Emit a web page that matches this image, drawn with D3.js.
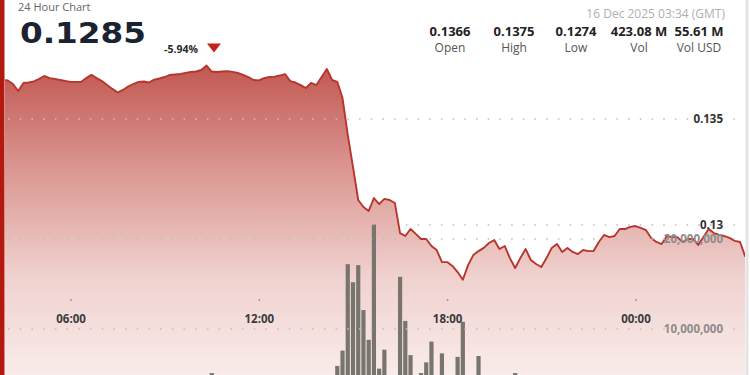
<!DOCTYPE html>
<html>
<head>
<meta charset="utf-8">
<script src="https://cdn.jsdelivr.net/npm/d3@7"></script>
<style>
  body { margin: 0; background: #fff; }
  svg { display: block; font-family: "Open Sans", sans-serif; }
</style>
</head>
<body>
<svg id="chart"></svg>
<script>
// 10 minute samples, 15 Dec 03:40 -> 16 Dec 03:30 (GMT)
var startTime = "2025-12-15T03:40:00Z";
var stepMinutes = 10;

var prices = [
  0.13660, 0.13684, 0.13682, 0.13665, 0.13632, 0.13670, 0.13672, 0.13677, 0.13689, 0.13703,
  0.13693, 0.13689, 0.13684, 0.13679, 0.13675, 0.13675, 0.13675, 0.13693, 0.13708, 0.13693,
  0.13679, 0.13660, 0.13642, 0.13625, 0.13637, 0.13653, 0.13665, 0.13675, 0.13677, 0.13672,
  0.13686, 0.13691, 0.13698, 0.13708, 0.13710, 0.13712, 0.13717, 0.13722, 0.13724, 0.13731,
  0.13752, 0.13724, 0.13722, 0.13724, 0.13726, 0.13722, 0.13717, 0.13708, 0.13698, 0.13684,
  0.13682, 0.13693, 0.13698, 0.13700, 0.13705, 0.13712, 0.13679, 0.13672, 0.13660, 0.13646,
  0.13670, 0.13660, 0.13698, 0.13736, 0.13684, 0.13675, 0.13599, 0.13425, 0.13274, 0.13118,
  0.13085, 0.13066, 0.13127, 0.13099, 0.13123, 0.13118, 0.13104, 0.12962, 0.12948, 0.12981,
  0.12958, 0.12934, 0.12934, 0.12901, 0.12882, 0.12825, 0.12825, 0.12807, 0.12778, 0.12742,
  0.12811, 0.12858, 0.12877, 0.12892, 0.12915, 0.12929, 0.12887, 0.12901, 0.12844, 0.12797,
  0.12844, 0.12887, 0.12835, 0.12816, 0.12802, 0.12844, 0.12892, 0.12910, 0.12873, 0.12892,
  0.12873, 0.12863, 0.12882, 0.12877, 0.12877, 0.12920, 0.12953, 0.12943, 0.12948, 0.12981,
  0.12981, 0.12991, 0.12995, 0.12986, 0.12976, 0.12939, 0.12920, 0.12910, 0.12948, 0.12943,
  0.12943, 0.12920, 0.12934, 0.12934, 0.12906, 0.12943, 0.12981, 0.12962, 0.12953, 0.12948,
  0.12939, 0.12925, 0.12920, 0.12850
];

// volume per 10 min, millions
var volumes = [
  1.6, 1.2, 0.9, 1.4, 2.1, 1.1, 0.8, 1.3, 1.7, 2.4,
  1.5, 1.0, 0.9, 1.8, 1.2, 1.1, 0.7, 1.9, 2.6, 1.4,
  1.2, 2.2, 2.9, 1.6, 1.3, 1.9, 1.1, 0.9, 1.4, 1.2,
  1.8, 1.3, 1.7, 2.0, 1.5, 1.1, 1.6, 2.3, 1.9, 2.8,
  3.9, 5.1, 2.4, 1.7, 1.3, 1.6, 1.2, 1.9, 2.2, 2.7,
  1.8, 1.4, 1.5, 1.2, 1.9, 2.5, 2.9, 1.7, 2.4, 3.1,
  2.2, 2.6, 3.4, 3.8, 2.7, 5.9, 7.6, 17.2, 15.2, 17.1,
  12.1, 8.8, 21.6, 5.6, 7.7, 3.9, 4.2, 15.8, 10.9, 7.1,
  4.0, 5.1, 6.3, 8.6, 4.3, 7.3, 3.6, 4.1, 6.9, 10.8,
  4.2, 3.8, 7.0, 3.1, 2.6, 3.3, 2.4, 2.9, 3.7, 5.1,
  2.8, 2.1, 3.2, 2.5, 1.9, 2.3, 2.7, 1.8, 1.6, 2.2,
  1.5, 1.9, 1.4, 2.0, 1.7, 2.6, 2.3, 1.6, 1.3, 1.8,
  1.2, 1.5, 1.9, 1.4, 1.1, 1.7, 2.1, 1.6, 1.3, 1.2,
  1.0, 1.4, 1.8, 1.3, 1.6, 2.0, 1.5, 1.2, 1.1, 1.4,
  1.7, 1.3, 2.2, 3.4
];

var priceTicks = [0.13, 0.135];
var volumeTicks = [10000000, 20000000];
var timeTicks = ["2025-12-15T06:00:00Z", "2025-12-15T12:00:00Z", "2025-12-15T18:00:00Z", "2025-12-16T00:00:00Z"];

var lastPrice = "0.1285";
var changePct = "-5.94%";
var stampText = "16 Dec 2025 03:34 (GMT)";
var statValues = ["0.1366", "0.1375", "0.1274", "423.08 M", "55.61 M"];
var statLabels = ["Open", "High", "Low", "Vol", "Vol USD"];

var width = 750, height = 375;
var t0 = new Date(startTime);
var data = prices.map(function (p, i) {
  return { t: d3.utcMinute.offset(t0, i * stepMinutes), p: p, v: volumes[i] * 1e6 };
});

var svg = d3.select("#chart").attr("width", width).attr("height", height);

var x = d3.scaleUtc()
  .domain([data[0].t, data[data.length - 1].t])
  .range([-2.7, 745.3]);
var yPrice = d3.scaleLinear().domain([0.13, 0.135]).range([225, 119]);
var yVol = d3.scaleLinear().domain([0, 20000000]).range([419, 239]);

var defs = svg.append("defs");
defs.append("clipPath").attr("id", "plot")
  .append("rect").attr("x", 5).attr("y", 0).attr("width", 740).attr("height", height);

var grad = defs.append("linearGradient").attr("id", "fill")
  .attr("gradientUnits", "userSpaceOnUse")
  .attr("x1", 0).attr("x2", 0)
  .attr("y1", yPrice(0.1375)).attr("y2", yVol(0));
grad.append("stop").attr("offset", 0).attr("stop-color", "rgb(193,88,82)");
grad.append("stop").attr("offset", 0.3).attr("stop-color", "rgb(220,152,147)");
grad.append("stop").attr("offset", 0.6).attr("stop-color", "rgb(240,210,207)");
grad.append("stop").attr("offset", 1).attr("stop-color", "rgb(253,247,246)");

var plot = svg.append("g").attr("clip-path", "url(#plot)");

// area under price
var area = d3.area()
  .x(function (d) { return x(d.t); })
  .y0(yVol(0))
  .y1(function (d) { return yPrice(d.p); });
plot.append("path").datum(data).attr("d", area).attr("fill", "url(#fill)");

// dotted grid lines
var gridYs = priceTicks.map(yPrice).concat(volumeTicks.map(yVol));
svg.append("g").selectAll("line").data(gridYs).enter().append("line")
  .attr("x1", 8).attr("x2", 742)
  .attr("y1", function (d) { return d; }).attr("y2", function (d) { return d; })
  .attr("stroke", "#c2bebe")
  .attr("stroke-width", 1.6)
  .attr("stroke-dasharray", "1.6,10.1");

// volume bars
plot.append("g").selectAll("rect").data(data).enter().append("rect")
  .attr("x", function (d) { return x(d.t) - 2.1; })
  .attr("width", 4.2)
  .attr("y", function (d) { return yVol(d.v); })
  .attr("height", function (d) { return yVol(0) - yVol(d.v); })
  .attr("fill", "#78756f");

// price line
var line = d3.line()
  .x(function (d) { return x(d.t); })
  .y(function (d) { return yPrice(d.p); });
plot.append("path").datum(data).attr("d", line)
  .attr("fill", "none")
  .attr("stroke", "#b8352e")
  .attr("stroke-width", 1.9)
  .attr("stroke-linejoin", "round");

// time axis
var tickDates = timeTicks.map(function (s) { return new Date(s); });
var xAxis = svg.append("g").attr("transform", "translate(0,300)")
  .call(d3.axisBottom(x).tickValues(tickDates)
    .tickFormat(d3.utcFormat("%H:%M")).tickSize(0).tickPadding(15));
xAxis.select(".domain").remove();
xAxis.selectAll("text")
  .attr("font-family", "Open Sans").attr("font-size", 11.5)
  .attr("font-weight", "bold").attr("fill", "#3b3b3d");
xAxis.selectAll(".tick").append("circle").attr("r", 1).attr("fill", "#9a9a9a");

// price labels
var pAxis = svg.append("g").attr("transform", "translate(723,0)")
  .call(d3.axisLeft(yPrice).tickValues(priceTicks)
    .tickFormat(d3.format(".3~f")).tickSize(0).tickPadding(0));
pAxis.select(".domain").remove();
pAxis.selectAll("text")
  .attr("font-family", "Open Sans").attr("font-size", 11.5)
  .attr("font-weight", "bold").attr("fill", "#333");

// volume labels
var vAxis = svg.append("g").attr("transform", "translate(723,0)")
  .call(d3.axisLeft(yVol).tickValues(volumeTicks)
    .tickFormat(d3.format(",")).tickSize(0).tickPadding(0));
vAxis.select(".domain").remove();
vAxis.selectAll("text")
  .attr("font-family", "Open Sans").attr("font-size", 11.5)
  .attr("font-weight", "bold").attr("fill", "#8e8c8c");

// header
svg.append("text").attr("x", 18).attr("y", 10.5)
  .attr("font-size", 11).attr("fill", "#666").text("24 Hour Chart");
svg.append("text").attr("x", 20).attr("y", 43.3)
  .attr("font-family", "DejaVu Sans").attr("font-weight", "bold")
  .attr("font-size", 28.5).attr("fill", "#1b2332")
  .attr("textLength", 126).attr("lengthAdjust", "spacingAndGlyphs")
  .text(lastPrice);
svg.append("text").attr("x", 164).attr("y", 52.5)
  .attr("font-size", 10.5).attr("font-weight", "bold").attr("fill", "#2a2a2a")
  .text(changePct);
svg.append("path").attr("d", "M207,43.5L221,43.5L214,52.5Z").attr("fill", "#c3231a");

svg.append("text").attr("x", 725).attr("y", 17.5).attr("text-anchor", "end")
  .attr("font-size", 12).attr("fill", "#b0b0b0").text(stampText);

var statX = [450, 514, 576, 639, 699];
var stats = svg.append("g").selectAll("g").data(statValues).enter().append("g")
  .attr("transform", function (d, i) { return "translate(" + statX[i] + ",0)"; });
stats.append("text").attr("y", 35.5).attr("text-anchor", "middle")
  .attr("font-size", 13).attr("font-weight", "bold").attr("fill", "#222")
  .text(function (d) { return d; });
stats.append("text").attr("y", 51.5).attr("text-anchor", "middle")
  .attr("font-size", 12).attr("fill", "#555")
  .text(function (d, i) { return statLabels[i]; });

// frame edges
svg.append("rect").attr("x", 0).attr("y", 0).attr("width", 4.5).attr("height", height).attr("fill", "#b3190f");
svg.append("rect").attr("x", 745.5).attr("y", 0).attr("width", 3).attr("height", height).attr("fill", "#e4e4e4");
</script>
</body>
</html>
